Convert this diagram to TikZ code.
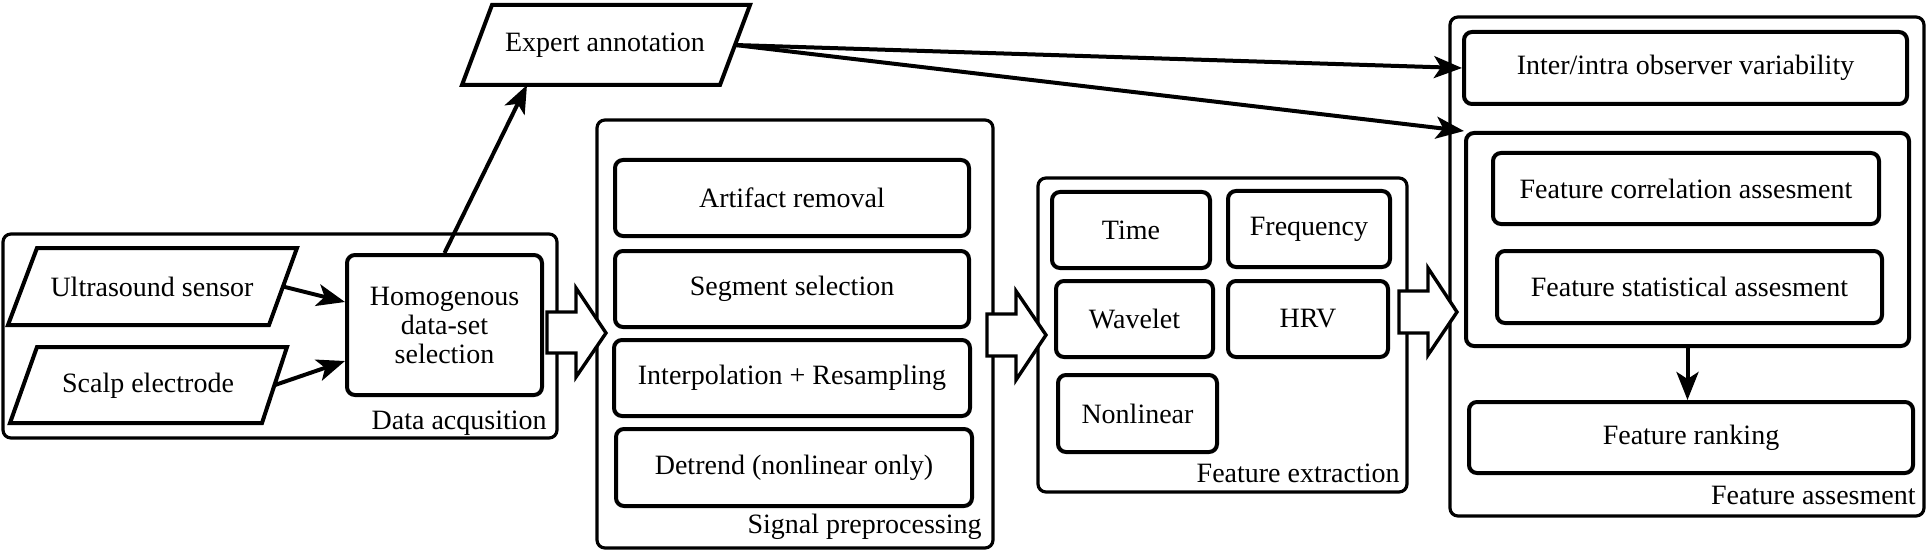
\documentclass[tikz,border=0pt]{standalone}
\usepackage{fontspec}
\setmainfont{Liberation Serif}
\newfontfamily\diagfont{Liberation Serif}
\usetikzlibrary{arrows.meta}
\begin{document}
\begin{tikzpicture}[x=0.5pt,y=-0.5pt,
  txt/.style={font=\diagfont\fontsize{14}{14.5}\selectfont},
  boxat/.style args={#1/#2/#3/#4}{at={(0.5*#1+0.5*#3,0.5*#2+0.5*#4)},
     minimum width={(#3-#1)*0.5pt}, minimum height={(#4-#2)*0.5pt}},
  outerbox/.style={draw, line width=1.6pt, rounded corners=4pt, inner sep=0pt, boxat=#1},
  innerbox/.style={draw, line width=2pt, rounded corners=4pt, inner sep=0pt, boxat=#1, txt},
  para/.style={draw, line width=2pt, line join=miter},
  arr/.style={line width=2pt, -{Stealth[length=14pt,width=11pt,inset=3.5pt]}},
  blockarrow/.style={draw, fill=white, line width=1.7pt, line join=miter},
  grouplabel/.style={txt, anchor=base east, inner sep=0pt}]
\useasboundingbox (0,0) rectangle (1929,551);

% ---------------- Data acquisition ----------------
\node[outerbox=3/234/557/438] (da) {};
\node[grouplabel] (daL) at (547,429) {Data acqusition};
\draw[para] (8,325) -- (269,325) -- (297,248) -- (37,248) -- cycle;
\node[txt] (us) at (152,287) {Ultrasound sensor};
\coordinate (usE) at (283,286.5);
\draw[para] (10,423) -- (262,423) -- (287,347) -- (37,347) -- cycle;
\node[txt] (sc) at (148,386) {Scalp electrode};
\coordinate (scE) at (275,385);
\node[innerbox=347/255/542/395, align=center] (hd) {Homogenous\\data-set\\selection};

% ---------------- Expert annotation ----------------
\draw[para] (462,85) -- (720,85) -- (750,5) -- (492,5) -- cycle;
\node[txt] (ea) at (605,45) {Expert annotation};
\coordinate (eaB) at (527,85);
\coordinate (eaE) at (735,45);

% ---------------- Signal preprocessing ----------------
\node[outerbox=597/120/993/548] (sp) {};
\node[grouplabel] (spL) at (982,533) {Signal preprocessing};
\node[innerbox=615/160/969/236] (ar) {Artifact removal};
\node[innerbox=615/251/969/327] (ss) {Segment selection};
\node[innerbox=614/340/970/416] (ip) {Interpolation + Resampling};
\node[innerbox=616/429/972/506] (dt) {Detrend (nonlinear only)};

% ---------------- Feature extraction ----------------
\node[outerbox=1038/178/1407/492] (fe) {};
\node[grouplabel] (feL) at (1400,482) {Feature extraction};
\node[innerbox=1052/192/1210/268] (ti) {Time};
\node[innerbox=1228/191/1390/267] (fq) {Frequency};
\node[innerbox=1056/281/1213/357] (wv) {Wavelet};
\node[innerbox=1228/281/1388/357] (hr) {HRV};
\node[innerbox=1058/375/1217/452] (nl) {Nonlinear};

% ---------------- Feature assessment ----------------
\node[outerbox=1450/17/1924/516] (fa) {};
\node[grouplabel] (faL) at (1916,504) {Feature assesment};
\node[innerbox=1464/32/1907/104] (ii) {Inter/intra observer variability};
\node[outerbox=1466/133/1909/346, line width=2pt] (mc) {};
\node[innerbox=1493/153/1879/224] (fc) {Feature correlation assesment};
\node[innerbox=1497/251/1882/323] (fs) {Feature statistical assesment};
\node[innerbox=1469/402/1913/473] (fr) {Feature ranking};

% ---------------- Connectors ----------------
\draw[arr] (usE) -- ([yshift=11.5pt]hd.west);
\draw[arr] (scE) -- ([yshift=-18pt]hd.west);
\draw[arr] (hd.north) -- (eaB);
\draw[arr] (eaE) -- (ii.west);
\draw[arr] (eaE) -- (mc.north west);
\draw[arr] (mc.south) -- (mc.south |- fr.north);

% block arrows
\draw[blockarrow] (547,312) -- (576,312) -- (576,288) -- (606,333) -- (576,377) -- (576,353) -- (547,353) -- cycle;
\draw[blockarrow] (987,314) -- (1016,314) -- (1016,291) -- (1046,335) -- (1016,380) -- (1016,356) -- (987,356) -- cycle;
\draw[blockarrow] (1399,291) -- (1428,291) -- (1428,268) -- (1457,312) -- (1428,355) -- (1428,333) -- (1399,333) -- cycle;
\end{tikzpicture}
\end{document}
